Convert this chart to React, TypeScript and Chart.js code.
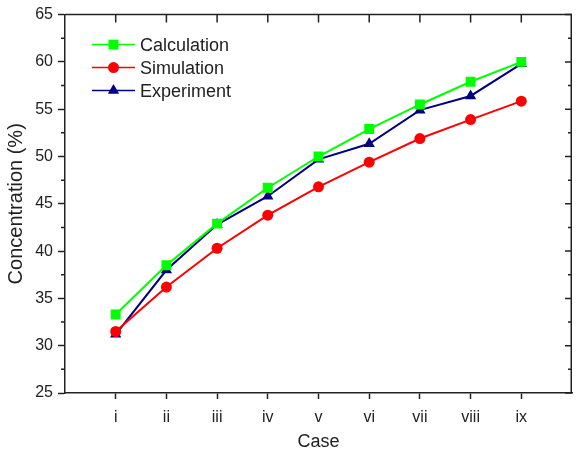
import React, { useEffect, useRef } from "react";
import { Chart, registerables } from "chart.js";

Chart.register(...registerables);

const cases = ["i", "ii", "iii", "iv", "v", "vi", "vii", "viii", "ix"];
const calculation = [33.3, 38.5, 42.9, 46.7, 50.0, 52.9, 55.5, 57.9, 60.0];
const simulation = [31.5, 36.2, 40.3, 43.8, 46.8, 49.4, 51.9, 53.9, 55.85];
const experiment = [31.2, 38.0, 42.8, 45.8, 49.7, 51.35, 54.9, 56.4, 59.8];
const seriesNames = ["Calculation", "Simulation", "Experiment"];
const yMin = 25;
const yMax = 65;
const yMajorStep = 5;
const yMinorStep = 2.5;

const AXIS = "#222222";
const FONT = "Arial, 'Liberation Sans', sans-serif";

function drawMarker(ctx: CanvasRenderingContext2D, style: string, x: number, y: number, r: number, color: string) {
  ctx.save();
  ctx.fillStyle = color;
  ctx.beginPath();
  if (style === "rect") {
    const s = Math.SQRT1_2 * r;
    ctx.rect(x - s, y - s, 2 * s, 2 * s);
  } else if (style === "circle") {
    ctx.arc(x, y, r, 0, Math.PI * 2);
  } else {
    let rad = 0;
    ctx.moveTo(x + Math.sin(rad) * r, y - Math.cos(rad) * r);
    rad += (2 * Math.PI) / 3;
    ctx.lineTo(x + Math.sin(rad) * r, y - Math.cos(rad) * r);
    rad += (2 * Math.PI) / 3;
    ctx.lineTo(x + Math.sin(rad) * r, y - Math.cos(rad) * r);
    ctx.closePath();
  }
  ctx.fill();
  ctx.restore();
}

const framePlugin = {
  id: "frameTicks",
  afterDraw(chart: any) {
    const { ctx, chartArea } = chart;
    const xs = chart.scales.x;
    const ys = chart.scales.y;
    const { left, right, top, bottom } = chartArea;
    ctx.save();
    ctx.strokeStyle = AXIS;
    ctx.lineWidth = 1.5;
    ctx.beginPath();
    ctx.moveTo(left, top);
    ctx.lineTo(right, top);
    ctx.moveTo(right - 0.75, top);
    ctx.lineTo(right - 0.75, bottom);
    ctx.stroke();
    ctx.beginPath();
    xs.ticks.forEach((t: any) => {
      const px = xs.getPixelForValue(t.value);
      ctx.moveTo(px, top);
      ctx.lineTo(px, top + 8);
    });
    for (let v = yMin; v <= yMax + 1e-9; v += yMinorStep) {
      const py = ys.getPixelForValue(v);
      const major = Math.abs(v / yMajorStep - Math.round(v / yMajorStep)) < 1e-6;
      ctx.moveTo(right, py);
      ctx.lineTo(right - (major ? 7 : 4), py);
      if (!major) {
        ctx.moveTo(left, py);
        ctx.lineTo(left - 4, py);
      }
    }
    ctx.stroke();
    ctx.restore();
  },
};

const legendPlugin = {
  id: "insideLegend",
  afterDatasetsDraw(chart: any) {
    const { ctx, chartArea } = chart;
    ctx.save();
    chart.data.datasets.forEach((ds: any, i: number) => {
      const y = chartArea.top + 30 + i * 23;
      const x0 = chartArea.left + 27;
      const x1 = chartArea.left + 70;
      ctx.strokeStyle = ds.borderColor;
      ctx.lineWidth = 1.5;
      ctx.beginPath();
      ctx.moveTo(x0, y);
      ctx.lineTo(x1, y);
      ctx.stroke();
      drawMarker(ctx, ds.pointStyle, (x0 + x1) / 2, y, ds.pointRadius, ds.pointBackgroundColor);
      ctx.fillStyle = AXIS;
      ctx.font = `18px ${FONT}`;
      ctx.textBaseline = "middle";
      ctx.textAlign = "left";
      ctx.fillText(ds.label, x1 + 5, y + 1);
    });
    ctx.restore();
  },
};

export default function App() {
  const ref = useRef<HTMLCanvasElement | null>(null);
  useEffect(() => {
    if (!ref.current) return;
    const mk = (vals: number[]) => vals.map((v, i) => ({ x: i + 1, y: v }));
    const chart = new Chart(ref.current, {
      type: "line",
      data: {
        datasets: [
          {
            label: seriesNames[0],
            data: mk(calculation),
            borderColor: "#00ff00",
            backgroundColor: "#00ff00",
            pointBackgroundColor: "#00ff00",
            pointBorderWidth: 0,
            pointStyle: "rect",
            pointRadius: 7,
            borderWidth: 2,
          },
          {
            label: seriesNames[1],
            data: mk(simulation),
            borderColor: "#ff0000",
            backgroundColor: "#ff0000",
            pointBackgroundColor: "#ff0000",
            pointBorderWidth: 0,
            pointStyle: "circle",
            pointRadius: 5.5,
            borderWidth: 2,
          },
          {
            label: seriesNames[2],
            data: mk(experiment),
            borderColor: "#000080",
            backgroundColor: "#000080",
            pointBackgroundColor: "#000080",
            pointBorderWidth: 0,
            pointStyle: "triangle",
            pointRadius: 6.5,
            borderWidth: 2,
          },
        ] as any,
      },
      options: {
        animation: false,
        responsive: false,
        devicePixelRatio: 1,
        layout: { padding: { left: 0, right: 1, top: 14, bottom: 0 } },
        plugins: { legend: { display: false }, tooltip: { enabled: false } },
        elements: { line: { tension: 0 } },
        scales: {
          x: {
            type: "linear",
            min: 0,
            max: cases.length + 1,
            afterBuildTicks: (scale: any) => {
              scale.ticks = cases.map((_, i) => ({ value: i + 1 }));
            },
            afterFit: (scale: any) => {
              scale.height = 60;
            },
            ticks: {
              callback: (v: any) => cases[Math.round(v) - 1] ?? "",
              color: AXIS,
              font: { family: FONT, size: 16 },
              padding: 9,
              maxRotation: 0,
              autoSkip: false,
            },
            grid: { drawOnChartArea: false, tickLength: 6, color: AXIS, tickWidth: 1.5 },
            border: { display: true, color: AXIS, width: 1.5 },
            title: {
              display: true,
              text: "Case",
              color: AXIS,
              font: { family: FONT, size: 18 },
              padding: { top: 2, bottom: 0 },
            },
          },
          y: {
            type: "linear",
            min: yMin,
            max: yMax,
            afterFit: (scale: any) => {
              scale.width = 65;
            },
            ticks: {
              stepSize: yMajorStep,
              color: AXIS,
              font: { family: FONT, size: 16 },
              padding: 5,
            },
            grid: { drawOnChartArea: false, tickLength: 7, color: AXIS, tickWidth: 1.5 },
            border: { display: true, color: AXIS, width: 1.5 },
            title: {
              display: true,
              text: "Concentration (%)",
              color: AXIS,
              font: { family: FONT, size: 20 },
              padding: { top: 4, bottom: 0 },
            },
          },
        },
      } as any,
      plugins: [framePlugin, legendPlugin],
    });
    return () => chart.destroy();
  }, []);
  return (
    <div style={{ position: "absolute", left: 0, top: 0, width: 579, height: 453, background: "#fff" }}>
      <canvas ref={ref} width={579} height={453} />
    </div>
  );
}
